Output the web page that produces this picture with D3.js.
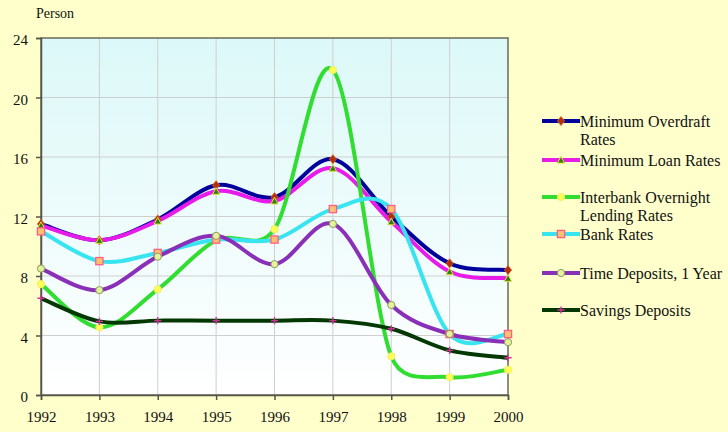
<!DOCTYPE html>
<html>
<head>
<meta charset="utf-8">
<script src="https://cdn.jsdelivr.net/npm/d3@7/dist/d3.min.js"></script>
</head>
<body style="margin:0;padding:0;background:#ffffcc">
<svg id="chart" width="728" height="432" style="display:block"></svg>
<script>
// ---- data ----
const years = [1992, 1993, 1994, 1995, 1996, 1997, 1998, 1999, 2000];
const minOverdraft = [11.5, 10.4, 11.8, 14.1, 13.3, 15.85, 12.0, 8.85, 8.4];
const minLoan      = [11.4, 10.4, 11.7, 13.7, 13.05, 15.25, 11.65, 8.3, 7.85];
const interbank    = [7.45, 4.55, 7.1, 10.4, 11.15, 21.85, 2.6, 1.2, 1.7];
const bankRates    = [11.0, 9.0, 9.55, 10.45, 10.45, 12.5, 12.5, 4.1, 4.1];
const timeDeposits = [8.5, 7.05, 9.3, 10.7, 8.8, 11.5, 6.05, 4.1, 3.55];
const savings      = [6.5, 4.95, 5.0, 5.0, 5.0, 5.0, 4.45, 3.0, 2.5];
const yTicks = [0, 4, 8, 12, 16, 20, 24];
const seriesNames = [
  ["Minimum Overdraft", "Rates"],
  ["Minimum Loan Rates"],
  ["Interbank Overnight", "Lending Rates"],
  ["Bank Rates"],
  ["Time Deposits, 1 Year"],
  ["Savings Deposits"]
];
const yLabel = "Person";

// ---- styles ----
const FONT = '"Liberation Serif"';
const styles = [
  { line: "#00009c", marker: "diamond", fill: "#b0300c", stroke: "#e06020" },
  { line: "#e81ce8", marker: "triangle", fill: "#2f7f10", stroke: "#e0e040" },
  { line: "#30dd30", marker: "circle", fill: "#ffff55", stroke: "#f0f060" },
  { line: "#38e4f0", marker: "square", fill: "#ffc070", stroke: "#ff5c8a" },
  { line: "#8a30b8", marker: "circle", fill: "#e4f29a", stroke: "#8a9a60" },
  { line: "#033803", marker: "plus", fill: "none", stroke: "#d0309a" }
];
const allSeries = [minOverdraft, minLoan, interbank, bankRates, timeDeposits, savings];

const svg = d3.select("#chart");
const plot = { left: 41, right: 508, top: 38, bottom: 395 };

const x = d3.scaleLinear().domain([1992, 2000]).range([plot.left, plot.right]);
const y = d3.scaleLinear().domain([0, 24]).range([plot.bottom, plot.top]);

// Excel-like smoothing curve (Bezier, chord/6 tangents limited by segment length)
function excelCurve(context) {
  let pts = [];
  return {
    areaStart() {}, areaEnd() {},
    lineStart() { pts = []; },
    point(px, py) { pts.push([+px, +py]); },
    lineEnd() {
      const n = pts.length;
      if (!n) return;
      context.moveTo(pts[0][0], pts[0][1]);
      for (let i = 0; i < n - 1; i++) {
        const p0 = pts[Math.max(i - 1, 0)], p1 = pts[i], p2 = pts[i + 1], p3 = pts[Math.min(i + 2, n - 1)];
        const seg = Math.hypot(p2[0] - p1[0], p2[1] - p1[1]);
        const lim = seg * 0.5;
        let t1 = [(p2[0] - p0[0]) / 6, (p2[1] - p0[1]) / 6];
        let t2 = [(p3[0] - p1[0]) / 6, (p3[1] - p1[1]) / 6];
        const l1 = Math.hypot(t1[0], t1[1]), l2 = Math.hypot(t2[0], t2[1]);
        if (l1 > lim && l1 > 0) t1 = [t1[0] * lim / l1, t1[1] * lim / l1];
        if (l2 > lim && l2 > 0) t2 = [t2[0] * lim / l2, t2[1] * lim / l2];
        context.bezierCurveTo(p1[0] + t1[0], p1[1] + t1[1], p2[0] - t2[0], p2[1] - t2[1], p2[0], p2[1]);
      }
    }
  };
}

// gradient background of plot area
const defs = svg.append("defs");
const grad = defs.append("linearGradient").attr("id", "bg").attr("x1", 0).attr("y1", 0).attr("x2", 0).attr("y2", 1);
grad.append("stop").attr("offset", "0%").attr("stop-color", "#dcf8f8");
grad.append("stop").attr("offset", "100%").attr("stop-color", "#ffffff");
defs.append("clipPath").attr("id", "clip").append("rect")
  .attr("x", plot.left).attr("y", plot.top - 5)
  .attr("width", plot.right - plot.left).attr("height", plot.bottom - plot.top + 5);

svg.append("rect")
  .attr("x", plot.left).attr("y", plot.top)
  .attr("width", plot.right - plot.left).attr("height", plot.bottom - plot.top)
  .attr("fill", "url(#bg)");

// grid
svg.append("g").selectAll("line").data(yTicks.slice(1, -1)).join("line")
  .attr("x1", plot.left).attr("x2", plot.right)
  .attr("y1", d => y(d)).attr("y2", d => y(d))
  .attr("stroke", "#cfcfcf").attr("stroke-width", 1);
svg.append("g").selectAll("line").data(years.slice(1, -1)).join("line")
  .attr("y1", plot.top).attr("y2", plot.bottom)
  .attr("x1", d => x(d)).attr("x2", d => x(d))
  .attr("stroke", "#cfcfcf").attr("stroke-width", 1);

// border
svg.append("rect")
  .attr("x", plot.left).attr("y", plot.top)
  .attr("width", plot.right - plot.left).attr("height", plot.bottom - plot.top)
  .attr("fill", "none").attr("stroke", "#6a6a5a").attr("stroke-width", 1.5);

// axes
const yAxis = d3.axisLeft(y).tickValues(yTicks).tickSize(5).tickPadding(8).tickFormat(d3.format("d"));
const gy = svg.append("g").attr("transform", `translate(${plot.left},0)`).call(yAxis)
  .attr("font-family", null).attr("font-size", null);
gy.select(".domain").attr("stroke", "#55554a").attr("stroke-width", 1.5);
gy.selectAll(".tick line").attr("stroke", "#55554a").attr("stroke-width", 1.5);
gy.selectAll(".tick text").style("font-size", "15px").style("font-family", FONT)
  .attr("dy", "0.45em").attr("fill", "#111");

const xAxis = d3.axisBottom(x).tickValues(years).tickSize(5).tickPadding(11).tickFormat(d3.format("d"));
const gx = svg.append("g").attr("transform", `translate(0,${plot.bottom})`).call(xAxis)
  .attr("font-family", null).attr("font-size", null);
gx.select(".domain").attr("stroke", "#55554a").attr("stroke-width", 1.5);
gx.selectAll(".tick line").attr("stroke", "#55554a").attr("stroke-width", 1.5);
gx.selectAll(".tick text").style("font-size", "15px").style("font-family", FONT).attr("fill", "#111");

svg.append("text").attr("x", 36).attr("y", 18)
  .style("font-family", FONT).style("font-size", "14px").attr("fill", "#111").text(yLabel);

// lines
const line = d3.line().x((d, i) => x(years[i])).y(d => y(d)).curve(excelCurve);
const gLines = svg.append("g").attr("clip-path", "url(#clip)");
allSeries.forEach((s, k) => {
  gLines.append("path").datum(s).attr("d", line)
    .attr("fill", "none").attr("stroke", styles[k].line).attr("stroke-width", 4)
    .attr("stroke-linejoin", "round").attr("stroke-linecap", "round");
});

function drawMarker(g, type, cx, cy, st) {
  const s = 3.6;
  if (type === "diamond") {
    g.append("path").attr("d", `M${cx},${cy - s - 1}L${cx + s},${cy}L${cx},${cy + s + 1}L${cx - s},${cy}Z`)
      .attr("fill", st.fill).attr("stroke", st.stroke).attr("stroke-width", 0.8);
  } else if (type === "triangle") {
    g.append("path").attr("d", `M${cx},${cy - s}L${cx + s},${cy + s - 0.5}L${cx - s},${cy + s - 0.5}Z`)
      .attr("fill", st.fill).attr("stroke", st.stroke).attr("stroke-width", 1);
  } else if (type === "circle") {
    g.append("circle").attr("cx", cx).attr("cy", cy).attr("r", s)
      .attr("fill", st.fill).attr("stroke", st.stroke).attr("stroke-width", 1);
  } else if (type === "square") {
    g.append("rect").attr("x", cx - s).attr("y", cy - s).attr("width", 2 * s).attr("height", 2 * s)
      .attr("fill", st.fill).attr("stroke", st.stroke).attr("stroke-width", 1.3);
  } else if (type === "plus") {
    g.append("path").attr("d", `M${cx - s},${cy}H${cx + s}M${cx},${cy - s}V${cy + s}`)
      .attr("stroke", st.stroke).attr("stroke-width", 1.4);
  }
}

const gMarks = svg.append("g");
allSeries.forEach((s, k) => {
  s.forEach((v, i) => drawMarker(gMarks, styles[k].marker, x(years[i]), y(v), styles[k]));
});

// legend
const legendY = [121, 160, 197, 234, 273, 310];
const gLeg = svg.append("g");
seriesNames.forEach((names, k) => {
  const ly = legendY[k];
  gLeg.append("line").attr("x1", 542).attr("x2", 580).attr("y1", ly).attr("y2", ly)
    .attr("stroke", styles[k].line).attr("stroke-width", 4);
  drawMarker(gLeg, styles[k].marker, 561, ly, styles[k]);
  const t = gLeg.append("text").attr("x", 580).attr("y", ly + 5.5)
    .style("font-family", FONT).style("font-size", "16px").attr("fill", "#111");
  names.forEach((n, j) => {
    t.append("tspan").attr("x", 580).attr("dy", j === 0 ? 0 : 18.5).text(n);
  });
});
</script>
</body>
</html>
